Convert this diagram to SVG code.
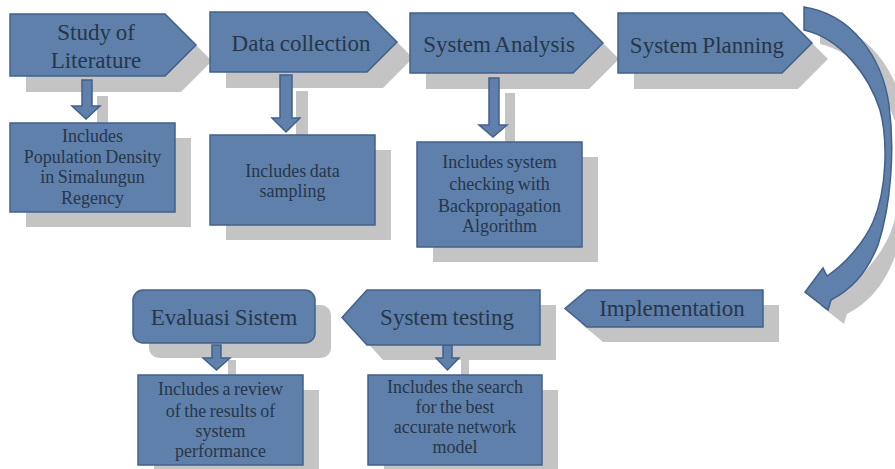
<svg xmlns="http://www.w3.org/2000/svg" width="895" height="469" viewBox="0 0 895 469">
<defs>
<style>
.s{fill:#5f80aa;stroke:#42608a;stroke-width:1.5}
.sh{fill:#c4c4c4}
.t{font-family:"Liberation Serif","DejaVu Serif",serif;fill:#27364a;text-anchor:middle}
.tt{font-size:23px;word-spacing:-1px}
.tc{font-size:18px;word-spacing:-1px}
</style>
</defs>
<rect width="895" height="469" fill="#ffffff"/>
<g id="shadows" class="sh">
<path d="M26,30 H181 L212,61 L181,92 H26 Z"/>
<path d="M226,28 H383 L413,58 L383,88 H226 Z"/>
<path d="M426,29 H589 L619,59 L589,89 H426 Z"/>
<path d="M634,29 H798 L828,59 L798,89 H634 Z"/>
<rect x="26" y="138" width="165" height="89"/>
<rect x="226" y="150" width="165" height="90"/>
<rect x="433" y="157" width="165" height="105"/>
<path d="M779,305 V342 H603 L581,323.5 L603,305 Z"/>
<path d="M556,305 V360 H383 L358,332.5 L383,305 Z"/>
<rect x="149" y="305" width="182" height="53" rx="10"/>
<rect x="154" y="390" width="165" height="90"/>
<rect x="384" y="390" width="174" height="90"/>
<rect x="97" y="96" width="11" height="30"/>
<rect x="296" y="91" width="12" height="50"/>
<rect x="505" y="93" width="10" height="55"/>
<rect x="228" y="360" width="8" height="20"/>
<rect x="461" y="360" width="8" height="20"/>
<path transform="translate(16,14)" d="M804,7 C850,14 882,55 889,105 C895,150 891,205 878,245 C866,275 850,290 831,300 L828,310 L805,292 L823,268 L827,276 C848,262 865,240 873,222 C887,190 888,140 880,110 C869,75 840,38 804,30 Z"/>
</g>
<g id="connectors" class="s">
<path d="M82,80 H92 V106 H100 L86,119 L72,106 H82 Z"/>
<path d="M280,75 H292 V118 H300 L286,132 L272,118 H280 Z"/>
<path d="M489,78 H499 V125 H507 L493,137 L479,125 H489 Z"/>
<path d="M212,345 H221 V358 H230 L216.5,370 L203,358 H212 Z"/>
<path d="M443,345 H452 V358 H459 L447.5,370 L436,358 H443 Z"/>
<path d="M804,7 C850,14 882,55 889,105 C895,150 891,205 878,245 C866,275 850,290 831,300 L828,310 L805,292 L823,268 L827,276 C848,262 865,240 873,222 C887,190 888,140 880,110 C869,75 840,38 804,30 Z"/>
</g>
<g id="study">
<path class="s" d="M10,14 H165 L196,45 L165,76 H10 Z"/>
<text class="t tt" x="96" y="40">Study of</text>
<text class="t tt" x="96" y="68">Literature</text>
</g>
<g id="data">
<path class="s" d="M210,12 H367 L397,42 L367,72 H210 Z"/>
<text class="t tt" x="301" y="51">Data collection</text>
</g>
<g id="analysis">
<path class="s" d="M410,13 H573 L603,43 L573,73 H410 Z"/>
<text class="t tt" x="499" y="52">System Analysis</text>
</g>
<g id="planning">
<path class="s" d="M618,13 H782 L812,43 L782,73 H618 Z"/>
<text class="t tt" x="707" y="53">System Planning</text>
</g>
<g id="study-detail">
<rect class="s" x="10" y="123" width="165" height="89"/>
<text class="t tc"><tspan x="92.5" y="142">Includes</tspan><tspan x="92.5" y="163">Population Density</tspan><tspan x="92.5" y="183">in Simalungun</tspan><tspan x="92.5" y="204">Regency</tspan></text>
</g>
<g id="data-detail">
<rect class="s" x="210" y="135" width="165" height="90"/>
<text class="t tc"><tspan x="292.5" y="177">Includes data</tspan><tspan x="292.5" y="197">sampling</tspan></text>
</g>
<g id="analysis-detail">
<rect class="s" x="417" y="142" width="165" height="105"/>
<text class="t tc"><tspan x="499.5" y="168">Includes system</tspan><tspan x="499.5" y="190">checking with</tspan><tspan x="499.5" y="212">Backpropagation</tspan><tspan x="499.5" y="232">Algorithm</tspan></text>
</g>
<g id="implementation">
<path class="s" d="M763,290 V327 H587 L565,308.5 L587,290 Z"/>
<text class="t tt" x="672" y="316">Implementation</text>
</g>
<g id="testing">
<path class="s" d="M540,290 V345 H367 L342,317.5 L367,290 Z"/>
<text class="t tt" x="447" y="325">System testing</text>
</g>
<g id="evaluasi">
<rect class="s" x="133" y="290" width="182" height="53" rx="10"/>
<text class="t tt" x="224" y="325">Evaluasi Sistem</text>
</g>
<g id="evaluasi-detail">
<rect class="s" x="138" y="375" width="165" height="90"/>
<text class="t tc"><tspan x="220.5" y="395">Includes a review</tspan><tspan x="220.5" y="417">of the results of</tspan><tspan x="220.5" y="437">system</tspan><tspan x="220.5" y="457">performance</tspan></text>
</g>
<g id="testing-detail">
<rect class="s" x="368" y="375" width="174" height="90"/>
<text class="t tc"><tspan x="455" y="393">Includes the search</tspan><tspan x="455" y="413">for the best</tspan><tspan x="455" y="433">accurate network</tspan><tspan x="455" y="453">model</tspan></text>
</g>
</svg>
